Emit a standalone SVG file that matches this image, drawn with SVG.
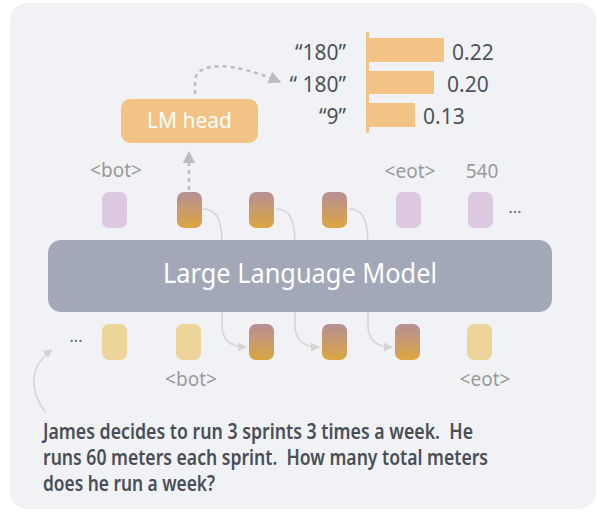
<svg xmlns="http://www.w3.org/2000/svg" width="597" height="512" viewBox="0 0 597 512">
<defs>
<linearGradient id="grad" x1="0" y1="0" x2="0" y2="1">
<stop offset="0" stop-color="#b58f96"/>
<stop offset="1" stop-color="#dca640"/>
</linearGradient>
<marker id="arrGray" viewBox="0 0 10 10" refX="9" refY="5" markerWidth="5" markerHeight="5" orient="auto" markerUnits="strokeWidth">
<path d="M0,0 L10,5 L0,10 z" fill="#bdbdbd"/>
</marker>
<marker id="arrLight" viewBox="0 0 10 10" refX="9" refY="5" markerWidth="6" markerHeight="6" orient="auto" markerUnits="strokeWidth">
<path d="M0,0 L10,5 L0,10 z" fill="#d4d4d4"/>
</marker>
<style>
.tok{rx:7px;ry:7px}
.purple{fill:#dcc8e1}
.yellow{fill:#edd499}
.grad{fill:url(#grad)}
.lbl{font-family:"Noto Sans","Liberation Sans",sans-serif;font-size:19px;fill:#9a9a9a}
.num{font-family:"Noto Sans","Liberation Sans",sans-serif;font-size:21px;fill:#4f535b}
.dots{font-family:"Noto Sans","Liberation Sans",sans-serif;font-size:16px;fill:#666}
.flow{fill:none;stroke:#d4d4d4;stroke-width:1.5;marker-end:url(#arrLight)}
.dash{fill:none;stroke:#bdbdbd;stroke-width:2.5;stroke-dasharray:4 4;marker-end:url(#arrGray)}
.bar{fill:#f2c384}
.q{font-family:"Noto Sans","Liberation Sans",sans-serif;font-size:21px;font-weight:600;fill:#4a4e57;white-space:pre}
</style>
</defs>
<rect x="10" y="3" width="586" height="506" rx="18" fill="#f1f2f6"/>

<g id="connectors">
<path class="flow" d="M203,209 C218,209 222,222 222,245 L222,325 C222,340 230,347 246,347"/>
<path class="flow" d="M276,209 C291,209 295,222 295,245 L295,325 C295,340 303,347 319,347"/>
<path class="flow" d="M349,209 C364,209 368,222 368,245 L368,325 C368,340 376,347 392,347"/>
<path class="dash" d="M189,190 L189,152"/>
<path class="dash" d="M195,94 L195,82 C195,60 235,62 280,82"/>
<path fill="none" stroke="#d4d4d4" stroke-width="1.5" marker-end="url(#arrLight)" d="M46,413 C28,390 30,365 52,350"/>
</g>

<g id="llm">
<rect x="48" y="240" width="504" height="72" rx="13" fill="#a2a8b7"/>
<text x="163" y="283" textLength="274" lengthAdjust="spacingAndGlyphs" font-family="'Noto Sans','Liberation Sans',sans-serif" font-size="27" fill="#ffffff">Large Language Model</text>
</g>

<g id="lmhead">
<rect x="121" y="99" width="137" height="44" rx="9" fill="#f2c384"/>
<text x="189.5" y="128" text-anchor="middle" font-family="'Noto Sans','Liberation Sans',sans-serif" font-size="21" fill="#ffffff">LM head</text>
</g>

<g id="top-tokens">
<rect class="tok purple" x="102" y="192" width="25" height="36"/>
<rect class="tok grad" x="177" y="192" width="25" height="36"/>
<rect class="tok grad" x="249" y="192" width="25" height="36"/>
<rect class="tok grad" x="322" y="192" width="25" height="36"/>
<rect class="tok purple" x="396" y="192" width="25" height="36"/>
<rect class="tok purple" x="468" y="192" width="25" height="36"/>
<text class="dots" x="515" y="213" text-anchor="middle">...</text>
<text class="lbl" x="116" y="177" text-anchor="middle">&lt;bot&gt;</text>
<text class="lbl" x="410" y="178" text-anchor="middle">&lt;eot&gt;</text>
<text class="lbl" x="482" y="178" text-anchor="middle">540</text>
</g>

<g id="bottom-tokens">
<text class="dots" x="76" y="342" text-anchor="middle">...</text>
<rect class="tok yellow" x="102" y="324" width="25" height="36"/>
<rect class="tok yellow" x="176" y="324" width="25" height="36"/>
<rect class="tok grad" x="249" y="324" width="25" height="36"/>
<rect class="tok grad" x="322" y="324" width="25" height="36"/>
<rect class="tok grad" x="395" y="324" width="25" height="36"/>
<rect class="tok yellow" x="467" y="324" width="25" height="36"/>
<text class="lbl" x="191" y="386" text-anchor="middle">&lt;bot&gt;</text>
<text class="lbl" x="485" y="386" text-anchor="middle">&lt;eot&gt;</text>
</g>

<g id="chart">
<rect class="bar" x="367" y="38" width="77" height="24"/>
<rect class="bar" x="367" y="71" width="67" height="23"/>
<rect class="bar" x="367" y="103" width="48" height="24"/>
<rect class="bar" x="366" y="32" width="3" height="101"/>
<text class="num" x="346" y="60" text-anchor="end">“180”</text>
<text class="num" x="346" y="92" text-anchor="end">“ 180”</text>
<text class="num" x="346" y="124" text-anchor="end">“9”</text>
<text class="num" x="452" y="60">0.22</text>
<text class="num" x="447" y="92">0.20</text>
<text class="num" x="423" y="124">0.13</text>
</g>

<g id="question">
<text class="q" x="43" y="439" textLength="430" lengthAdjust="spacingAndGlyphs">James decides to run 3 sprints 3 times a week.  He</text>
<text class="q" x="43" y="465" textLength="445" lengthAdjust="spacingAndGlyphs">runs 60 meters each sprint.  How many total meters</text>
<text class="q" x="43" y="491" textLength="172" lengthAdjust="spacingAndGlyphs">does he run a week?</text>
</g>
</svg>
